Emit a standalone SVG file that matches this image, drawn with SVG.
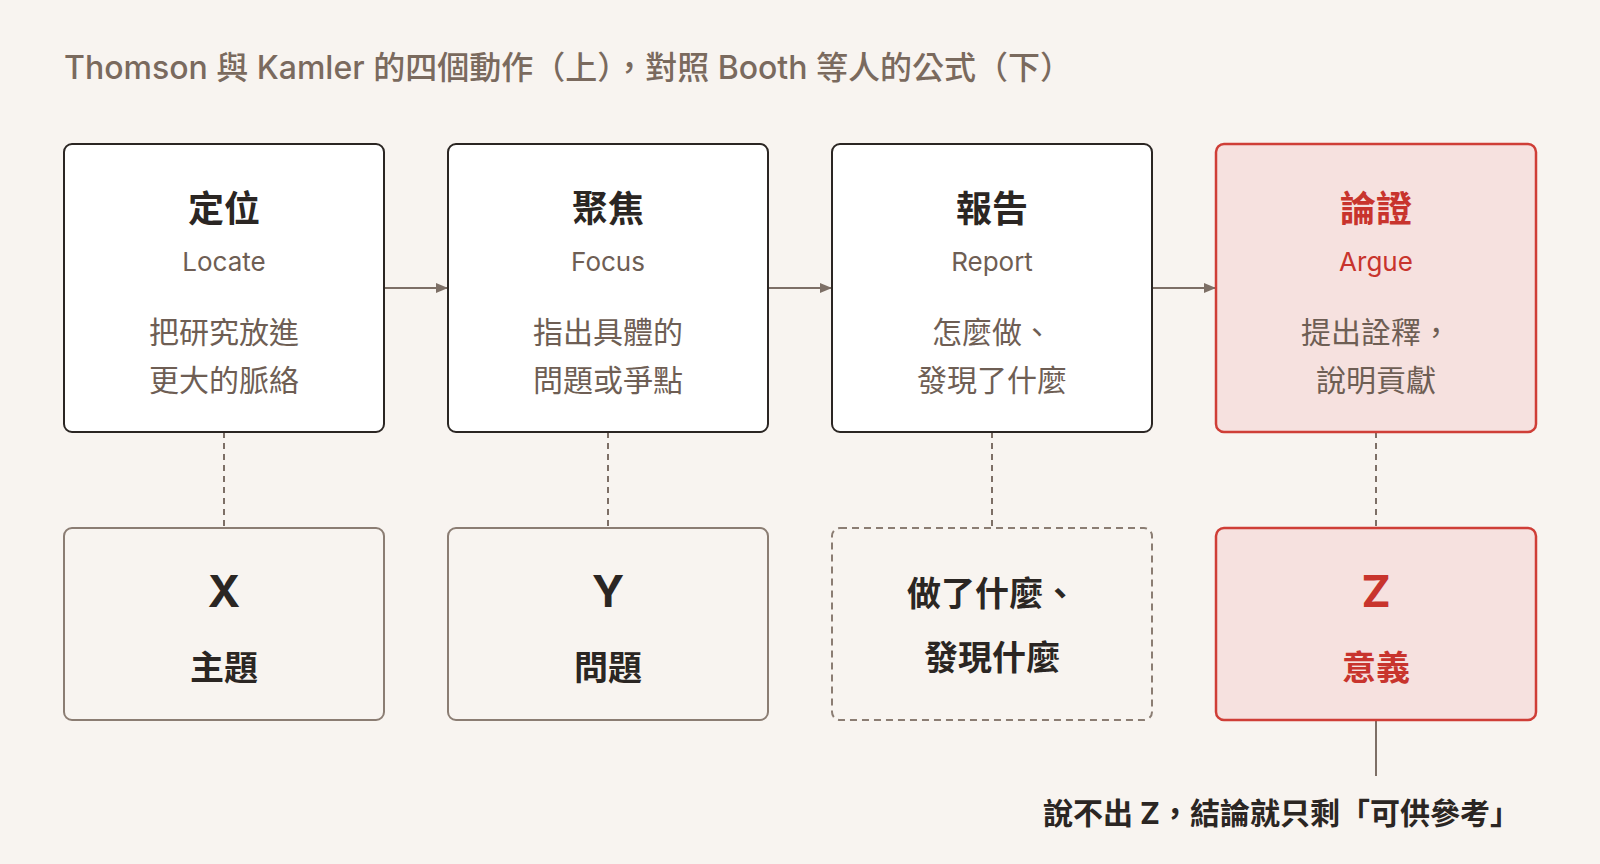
<svg xmlns="http://www.w3.org/2000/svg" width="1600" height="864" viewBox="0 0 1600 864">
<defs>
<style>
text{font-family:"Inter","Noto Sans CJK TC",sans-serif;text-anchor:middle}
.top{fill:#fff;stroke:#2b2623;stroke-width:2}
.bot{fill:#f8f4f0;stroke:#8b7d73;stroke-width:2}
.red{fill:#f6e1df;stroke:#cf3e37;stroke-width:2.5}
.h{font-size:36px;font-weight:700;fill:#2b2623}
.en{font-size:26px;fill:#6e5e54}
.zh{font-size:30px;fill:#6e5e54}
.b{font-size:34px;font-weight:700;fill:#2b2623}
.big{font-size:44px;font-weight:700;fill:#2b2623}
.r{fill:#c8342d}
.conn{stroke:#7d6f66;stroke-width:2;fill:none}
</style>
<marker id="ah" markerWidth="12" markerHeight="10" refX="11" refY="5" orient="auto" markerUnits="userSpaceOnUse"><path d="M0,0L12,5L0,10z" fill="#7d6f66"/></marker>
</defs>
<rect width="1600" height="864" fill="#f8f4f0"/>
<text x="64" y="79" style="text-anchor:start;font-size:32px;font-weight:500;fill:#7a6a5e">Thomson 與 Kamler 的四個動作（上），對照 Booth 等人的公式（下）</text>
<g id="connectors">
<line class="conn" x1="384" y1="288" x2="447" y2="288" marker-end="url(#ah)"/>
<line class="conn" x1="768" y1="288" x2="831" y2="288" marker-end="url(#ah)"/>
<line class="conn" x1="1152" y1="288" x2="1215" y2="288" marker-end="url(#ah)"/>
<line class="conn" x1="224" y1="432" x2="224" y2="528" stroke-dasharray="6,5"/>
<line class="conn" x1="608" y1="432" x2="608" y2="528" stroke-dasharray="6,5"/>
<line class="conn" x1="992" y1="432" x2="992" y2="528" stroke-dasharray="6,5"/>
<line class="conn" x1="1376" y1="432" x2="1376" y2="528" stroke-dasharray="6,5"/>
<line class="conn" x1="1376" y1="720" x2="1376" y2="776"/>
</g>
<g id="locate"><rect class="top" x="64" y="144" width="320" height="288" rx="8"/>
<text class="h" x="224" y="222">定位</text><text class="en" x="224" y="271">Locate</text>
<text class="zh" x="224" y="343">把研究放進</text><text class="zh" x="224" y="391">更大的脈絡</text></g>
<g id="focus"><rect class="top" x="448" y="144" width="320" height="288" rx="8"/>
<text class="h" x="608" y="222">聚焦</text><text class="en" x="608" y="271">Focus</text>
<text class="zh" x="608" y="343">指出具體的</text><text class="zh" x="608" y="391">問題或爭點</text></g>
<g id="report"><rect class="top" x="832" y="144" width="320" height="288" rx="8"/>
<text class="h" x="992" y="222">報告</text><text class="en" x="992" y="271">Report</text>
<text class="zh" x="992" y="343">怎麼做、</text><text class="zh" x="992" y="391">發現了什麼</text></g>
<g id="argue"><rect class="red" x="1216" y="144" width="320" height="288" rx="8"/>
<text class="h r" x="1376" y="222">論證</text><text class="en r" x="1376" y="271">Argue</text>
<text class="zh" x="1376" y="343">提出詮釋，</text><text class="zh" x="1376" y="391">說明貢獻</text></g>
<g id="x"><rect class="bot" x="64" y="528" width="320" height="192" rx="8"/>
<text class="big" x="224" y="607">X</text><text class="b" x="224" y="680">主題</text></g>
<g id="y"><rect class="bot" x="448" y="528" width="320" height="192" rx="8"/>
<text class="big" x="608" y="607">Y</text><text class="b" x="608" y="680">問題</text></g>
<g id="what"><rect class="bot" x="832" y="528" width="320" height="192" rx="8" stroke-dasharray="7,5"/>
<text class="b" x="992" y="606">做了什麼、</text><text class="b" x="992" y="670">發現什麼</text></g>
<g id="z"><rect class="red" x="1216" y="528" width="320" height="192" rx="8"/>
<text class="big r" x="1376" y="607">Z</text><text class="b r" x="1376" y="680">意義</text></g>
<text x="1520" y="824" style="text-anchor:end;font-size:30px;font-weight:700;fill:#2b2623">說不出 Z，結論就只剩「可供參考」</text>
</svg>
